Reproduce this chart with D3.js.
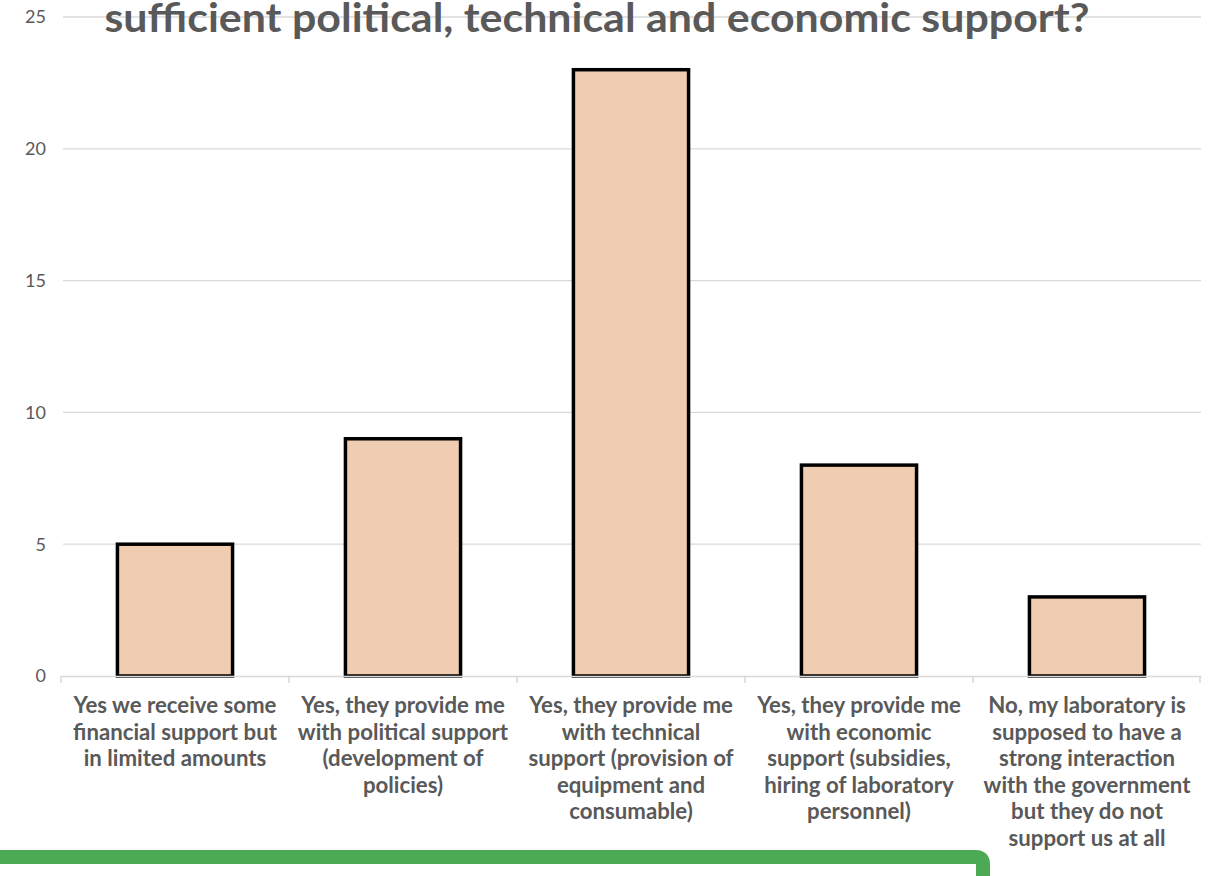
<!DOCTYPE html>
<html>
<head>
<meta charset="utf-8">
<script src="https://cdn.jsdelivr.net/npm/d3@7"></script>
<style>
  body { margin: 0; background: #fff; }
  svg { display: block; font-family: Lato, "Open Sans", sans-serif; }
</style>
</head>
<body>
<svg id="chart" width="1220" height="876"></svg>
<script>
// chart data
var categories = [
    ["Yes we receive some", "financial support but", "in limited amounts"],
    ["Yes, they provide me", "with political support", "(development of", "policies)"],
    ["Yes, they provide me", "with technical", "support (provision of", "equipment and", "consumable)"],
    ["Yes, they provide me", "with economic", "support (subsidies,", "hiring of laboratory", "personnel)"],
    ["No, my laboratory is", "supposed to have a", "strong interaction", "with the government", "but they do not", "support us at all"]
];
var values = [5, 9, 23, 8, 3];
var yTicks = [0, 5, 10, 15, 20, 25];
var titleText = "sufficient political, technical and economic support?";

var svg = d3.select("#chart");

var plotLeft = 61,
    plotRight = 1201,
    plotTop = 17,
    plotBottom = 676;

var keys = categories.map(function (d, i) { return i; });

var xScale = d3.scaleBand()
    .domain(keys)
    .range([plotLeft, plotRight])
    .padding(0);

var yScale = d3.scaleLinear()
    .domain([0, 25])
    .range([plotBottom, plotTop]);

// gridlines
svg.append("g")
    .selectAll("line")
    .data(yTicks.filter(function (d) { return d > 0; }))
    .enter()
    .append("line")
    .attr("x1", plotLeft + 2)
    .attr("x2", plotRight)
    .attr("y1", function (d) { return yScale(d); })
    .attr("y2", function (d) { return yScale(d); })
    .attr("stroke", "#d9d9d9")
    .attr("stroke-width", 1.3);

// y tick labels
svg.append("g")
    .selectAll("text")
    .data(yTicks)
    .enter()
    .append("text")
    .attr("x", 46)
    .attr("y", function (d) { return yScale(d); })
    .attr("dy", "0.35em")
    .attr("text-anchor", "end")
    .attr("fill", "#595959")
    .style("font-size", "18px")
    .text(function (d) { return d; });

// bars
var barFrac = 0.505;
svg.append("g")
    .selectAll("rect")
    .data(values)
    .enter()
    .append("rect")
    .attr("x", function (d, i) { return xScale(i) + xScale.bandwidth() * (1 - barFrac) / 2; })
    .attr("width", xScale.bandwidth() * barFrac)
    .attr("y", function (d) { return yScale(d); })
    .attr("height", function (d) { return plotBottom - yScale(d); })
    .attr("fill", "#f0cdb0")
    .attr("stroke", "#000")
    .attr("stroke-width", 3.5);

// x axis
var xAxis = d3.axisBottom(xScale)
    .tickSize(7)
    .tickFormat("")
    .tickSizeOuter(0);

var axisG = svg.append("g")
    .attr("transform", "translate(0," + plotBottom + ")")
    .call(xAxis);
axisG.select(".domain").attr("stroke", "#d9d9d9").attr("stroke-width", 1.5);
axisG.selectAll(".tick line")
    .attr("stroke", "#d9d9d9")
    .attr("stroke-width", 1.5)
    .attr("transform", "translate(" + (-xScale.bandwidth() / 2) + ",0)");
axisG.append("line")
    .attr("x1", plotRight - 1).attr("x2", plotRight - 1)
    .attr("y1", 0).attr("y2", 7)
    .attr("stroke", "#d9d9d9").attr("stroke-width", 1.5);

// category labels, sized so the first label is about as wide as in the picture
var labelG = svg.append("g");
var probe = labelG.append("text")
    .style("font-size", "20px")
    .style("font-weight", "bold")
    .text(categories[0][0]);
var labelSize = 20 * 203 / probe.node().getComputedTextLength();
probe.remove();

categories.forEach(function (lines, i) {
    var t = labelG.append("text")
        .attr("text-anchor", "middle")
        .attr("fill", "#595959")
        .style("font-size", labelSize + "px")
        .style("font-weight", "bold");
    t.selectAll("tspan")
        .data(lines)
        .enter()
        .append("tspan")
        .attr("x", xScale(i) + xScale.bandwidth() / 2)
        .attr("y", function (d, j) { return 713 + j * 26.6; })
        .text(function (d) { return d; });
});

// title (only its lower line is in view)
svg.append("text")
    .attr("x", 597)
    .attr("y", 32)
    .attr("text-anchor", "middle")
    .attr("fill", "#595959")
    .attr("textLength", 985)
    .attr("lengthAdjust", "spacingAndGlyphs")
    .style("font-size", "40px")
    .style("font-weight", "bold")
    .text(titleText);

// green frame at bottom
svg.append("path")
    .attr("d", "M0,857 H976 Q983,857 983,864 V880")
    .attr("fill", "none")
    .attr("stroke", "#4caa55")
    .attr("stroke-width", 14);
</script>
</body>
</html>
